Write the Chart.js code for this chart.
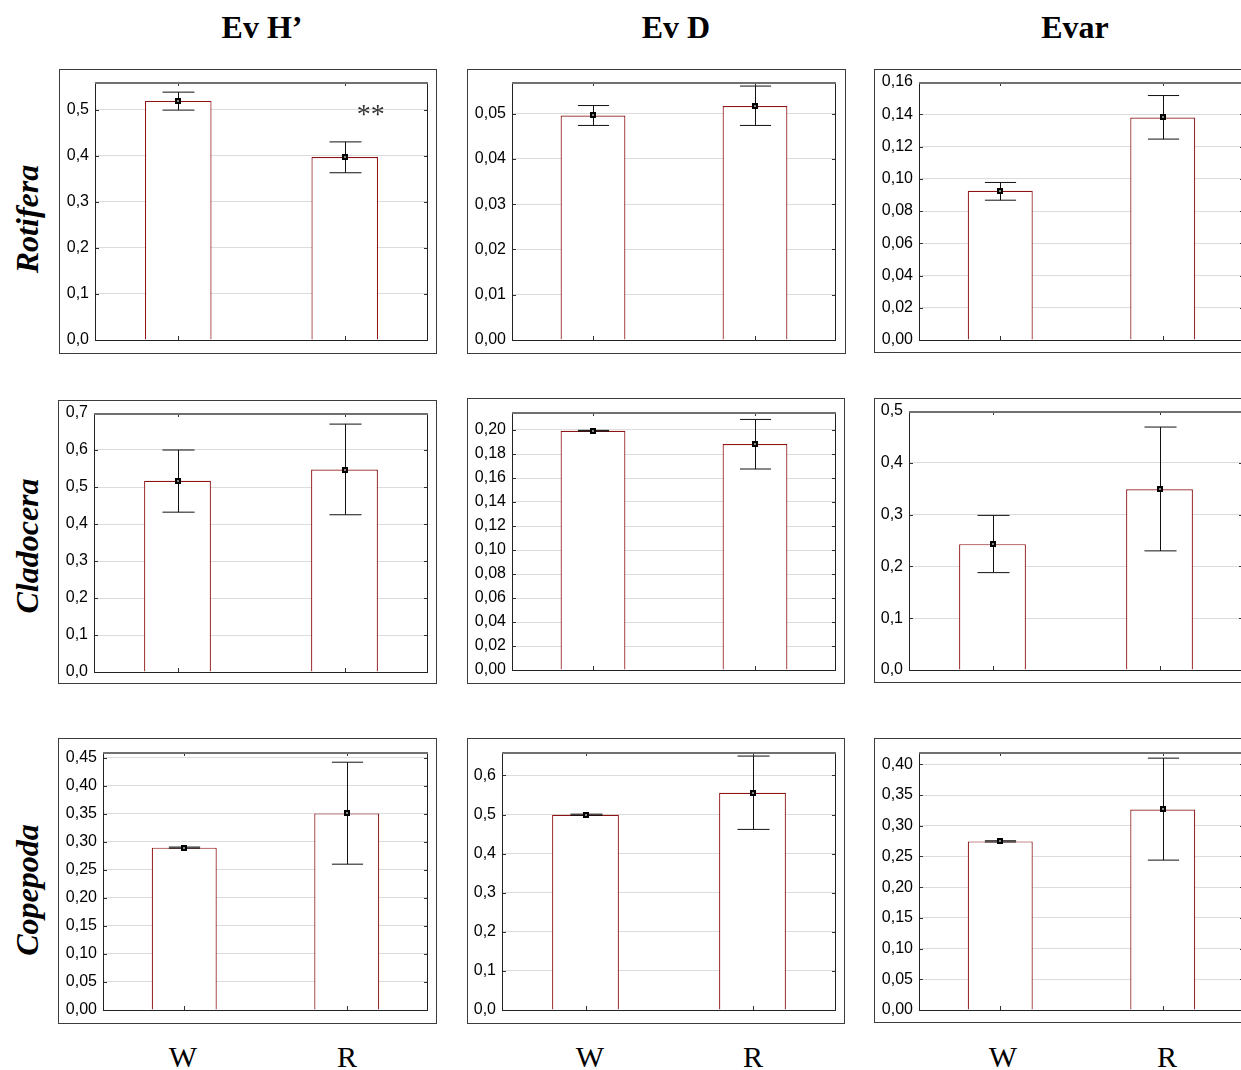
<!DOCTYPE html>
<html lang="en">
<head>
  <meta charset="UTF-8" />
  <title>Evenness W vs R</title>
  <script src="https://cdn.jsdelivr.net/npm/chart.js"></script>
  <style>
    html, body { margin: 0; padding: 0; background: #fff; }
    body { width: 1241px; height: 1070px; overflow: hidden; position: relative; }
    .frame { position: absolute; box-sizing: border-box; border: 1px solid #3c3c3c; }
    .frame canvas { position: absolute; left: 0; top: 0; }
    .head { position: absolute; transform: translateX(-50%); font: bold 32px 'Liberation Serif', 'Times New Roman', serif; line-height: 32px; white-space: nowrap; }
    .rowlab { position: absolute; transform: translate(-50%, -50%) rotate(-90deg); font: italic bold 32px 'Liberation Serif', 'Times New Roman', serif; white-space: nowrap; }
    .grp { position: absolute; transform: translateX(-50%); font: 30px 'Liberation Serif', 'Times New Roman', serif; line-height: 30px; }
  </style>
</head>
<body>

<script>
  // --- data (means and error bar ends) ---
  const groups = ['W', 'R'];
  const colNames = ['Ev H’', 'Ev D', 'Evar'];
  const rowNames = ['Rotifera', 'Cladocera', 'Copepoda'];

  const rotHMean = [0.519, 0.397];
  const rotHErr  = [[0.499, 0.538], [0.363, 0.430]];
  const rotDMean = [0.0496, 0.0517];
  const rotDErr  = [[0.0474, 0.0518], [0.0474, 0.0561]];
  const rotEMean = [0.0925, 0.138];
  const rotEErr  = [[0.0867, 0.0977], [0.1246, 0.1516]];

  const claHMean = [0.517, 0.547];
  const claHErr  = [[0.432, 0.600], [0.425, 0.670]];
  const claDMean = [0.1994, 0.1883];
  const claDErr  = [[0.1991, 0.1997], [0.1675, 0.2088]];
  const claEMean = [0.243, 0.349];
  const claEErr  = [[0.188, 0.2985], [0.230, 0.469]];

  const copHMean = [0.2895, 0.3505];
  const copHErr  = [[0.2885, 0.2905], [0.260, 0.4418]];
  const copDMean = [0.4995, 0.5556];
  const copDErr  = [[0.498, 0.501], [0.462, 0.6496]];
  const copEMean = [0.2745, 0.3265];
  const copEErr  = [[0.2735, 0.2755], [0.244, 0.410]];

  // y axis settings per panel
  const yMax  = [0.56, 0.057, 0.16, 0.7, 0.215, 0.5, 0.46, 0.66, 0.42];
  const yStep = [0.1, 0.01, 0.02, 0.1, 0.02, 0.1, 0.05, 0.1, 0.05];
  const yDec  = [1, 2, 2, 1, 2, 1, 2, 1, 2];
  const means = [rotHMean, rotDMean, rotEMean, claHMean, claDMean, claEMean, copHMean, copDMean, copEMean];
  const errs  = [rotHErr, rotDErr, rotEErr, claHErr, claDErr, claEErr, copHErr, copDErr, copEErr];

  // layout: frame [x0,y0,x1,y1] and plot area [l,t,r,b] in page pixels
  const frames = [
    [59, 69, 436, 353], [467, 69, 845, 353], [874, 69, 1253, 352],
    [58, 400, 436, 683], [467, 398, 844, 683], [874, 398, 1253, 682],
    [58, 738, 436, 1023], [467, 738, 844, 1023], [874, 738, 1253, 1022]
  ];
  const plots = [
    [95, 82, 427, 339], [512, 82, 835, 339], [919, 82, 1243, 339],
    [94, 413, 427, 671], [512, 412, 835, 669], [909, 411, 1242, 669],
    [103, 752, 427, 1009], [502, 752, 835, 1009], [919, 752, 1243, 1009]
  ];

  Chart.defaults.font.family = "'Liberation Sans', Arial, sans-serif";
  Chart.defaults.font.size = 16;
  Chart.defaults.color = '#000';

  // error bars, mean markers, plot frame and inner ticks
  const extras = {
    id: 'extras',
    afterDatasetsDraw(chart, args, opts) {
      const ctx = chart.ctx, xs = chart.scales.x, ys = chart.scales.y;
      const a = chart.chartArea;
      const meta = chart.getDatasetMeta(0);
      ctx.save();
      ctx.strokeStyle = '#111';
      ctx.lineWidth = 1;
      opts.err.forEach((e, i) => {
        const x = Math.round(xs.getPixelForValue(i)) + 0.5;
        const lo = ys.getPixelForValue(e[0]), hi = ys.getPixelForValue(e[1]);
        const half = meta.data[i].width * 0.24;
        ctx.beginPath();
        ctx.moveTo(x, lo); ctx.lineTo(x, hi);
        ctx.moveTo(x - half, lo); ctx.lineTo(x + half, lo);
        ctx.moveTo(x - half, hi); ctx.lineTo(x + half, hi);
        ctx.stroke();
      });
      opts.mean.forEach((m, i) => {
        const x = Math.round(xs.getPixelForValue(i));
        const y = Math.round(ys.getPixelForValue(m));
        ctx.fillStyle = '#000';
        ctx.fillRect(x - 3, y - 3, 6, 6);
        ctx.fillStyle = '#888';
        ctx.fillRect(x - 1, y - 1, 2, 2);
      });
      // inner tick marks
      ctx.strokeStyle = '#333';
      ctx.beginPath();
      ys.ticks.forEach(t => {
        const y = Math.round(ys.getPixelForValue(t.value)) + 0.5;
        ctx.moveTo(a.left, y); ctx.lineTo(a.left + 4, y);
        ctx.moveTo(a.right - 4, y); ctx.lineTo(a.right, y);
      });
      groups.forEach((g, i) => {
        const x = Math.round(xs.getPixelForValue(i)) + 0.5;
        ctx.moveTo(x, a.top); ctx.lineTo(x, a.top + 4);
        ctx.moveTo(x, a.bottom - 4); ctx.lineTo(x, a.bottom);
      });
      ctx.stroke();
      // plot frame
      ctx.strokeStyle = '#222';
      ctx.beginPath();
      ctx.moveTo(Math.round(a.left) + 0.5, a.top);
      ctx.lineTo(Math.round(a.left) + 0.5, Math.round(a.bottom) + 0.5);
      ctx.lineTo(a.right, Math.round(a.bottom) + 0.5);
      ctx.moveTo(Math.round(a.right) - 0.5, a.top);
      ctx.lineTo(Math.round(a.right) - 0.5, a.bottom);
      ctx.stroke();
      ctx.strokeStyle = '#707070';
      ctx.lineWidth = 2;
      ctx.beginPath();
      ctx.moveTo(a.left, Math.round(a.top) + 1);
      ctx.lineTo(a.right, Math.round(a.top) + 1);
      ctx.stroke();
      // significance mark
      if (opts.star) {
        ctx.fillStyle = '#333';
        ctx.font = "28px 'Liberation Serif', serif";
        ctx.textAlign = 'center';
        ctx.textBaseline = 'middle';
        ctx.fillText('**', xs.getPixelForValue(1) + 26, ys.getPixelForValue(0.487));
      }
      ctx.restore();
    }
  };

  means.forEach((mean, k) => {
    const f = frames[k], p = plots[k];
    const div = document.createElement('div');
    div.className = 'frame';
    div.style.left = f[0] + 'px';
    div.style.top = f[1] + 'px';
    div.style.width = (f[2] - f[0] + 1) + 'px';
    div.style.height = (f[3] - f[1] + 1) + 'px';
    const cv = document.createElement('canvas');
    cv.width = f[2] - f[0] - 1;
    cv.height = f[3] - f[1] - 1;
    div.appendChild(cv);
    document.body.appendChild(div);

    const yWidth = p[0] - (f[0] + 1);
    new Chart(cv, {
      type: 'bar',
      data: {
        labels: groups,
        datasets: [{
          data: mean,
          backgroundColor: '#fff',
          borderColor: '#8e1414',
          borderWidth: 1.2,
          barPercentage: 0.4,
          categoryPercentage: 1
        }]
      },
      options: {
        responsive: false,
        animation: false,
        events: [],
        layout: { padding: { top: p[1] - (f[1] + 1), bottom: (f[3] - 1) - p[3], right: (f[2] - 1) - p[2], left: 0 } },
        plugins: {
          legend: { display: false },
          tooltip: { enabled: false },
          extras: { mean: mean, err: errs[k], star: k === 0 }
        },
        scales: {
          x: { display: false },
          y: {
            min: 0,
            max: yMax[k],
            afterFit: s => { s.width = yWidth; s.paddingTop = 0; s.paddingBottom = 0; },
            border: { display: false },
            grid: { color: '#dcdcdc', drawTicks: false },
            ticks: {
              stepSize: yStep[k],
              includeBounds: false,
              padding: 6,
              callback: v => v.toFixed(yDec[k]).replace('.', ',')
            }
          }
        }
      },
      plugins: [extras]
    });
  });

  // headings and group labels
  const headX = [262, 676, 1075];
  colNames.forEach((t, i) => {
    const d = document.createElement('div');
    d.className = 'head';
    d.textContent = t;
    d.style.left = headX[i] + 'px';
    d.style.top = '11px';
    document.body.appendChild(d);
  });
  const rowY = [219, 546, 890];
  rowNames.forEach((t, i) => {
    const d = document.createElement('div');
    d.className = 'rowlab';
    d.textContent = t;
    d.style.left = '27px';
    d.style.top = rowY[i] + 'px';
    document.body.appendChild(d);
  });
  const grpX = [183, 347, 590, 753, 1003, 1167];
  grpX.forEach((x, i) => {
    const d = document.createElement('div');
    d.className = 'grp';
    d.textContent = groups[i % 2];
    d.style.left = x + 'px';
    d.style.top = '1042px';
    document.body.appendChild(d);
  });
</script>
</body>
</html>
